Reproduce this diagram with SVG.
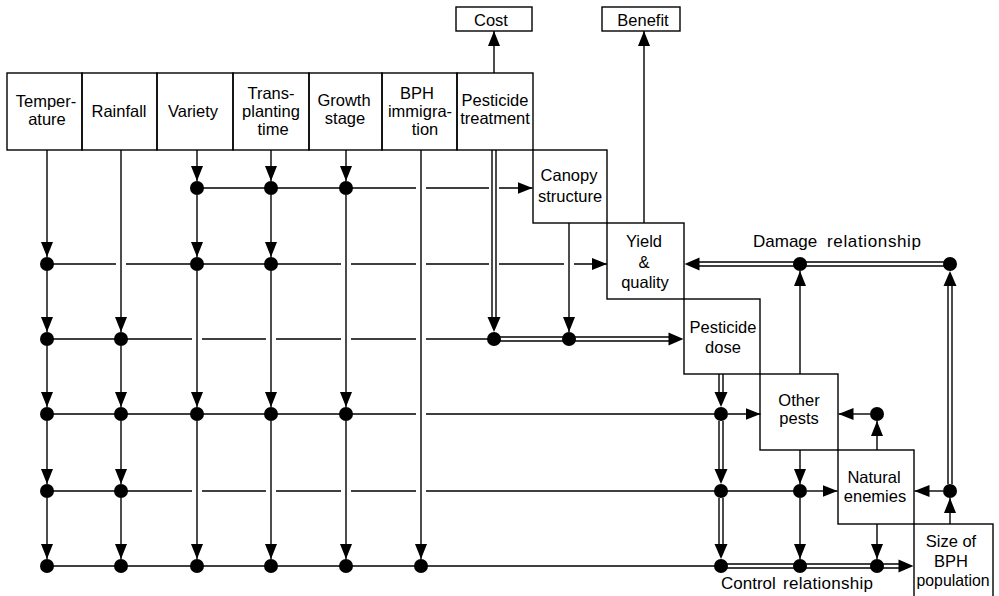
<svg xmlns="http://www.w3.org/2000/svg" width="999" height="596" viewBox="0 0 999 596">
<style>
.bx{fill:none;stroke:#000;stroke-width:1.4}
.ln{fill:none;stroke:#000;stroke-width:1.4}
.ar{fill:none;stroke:#000;stroke-width:1.4;marker-end:url(#ah)}
.hd{fill:#000;stroke:none}
.dt{fill:#000}
text{font-family:"Liberation Sans",Arial,sans-serif;font-size:16.5px;fill:#000;text-anchor:middle}
.lab{font-size:17px;text-anchor:start}
</style>
<defs>
<marker id="ah" markerUnits="userSpaceOnUse" markerWidth="15" markerHeight="12" refX="15" refY="6" orient="auto">
<path d="M0,0 L15,6 L0,12 z" fill="#000"/>
</marker>
</defs>
<rect width="999" height="596" fill="#fff"/>

<g id="connectors">
<!-- Temperature column -->
<path class="ar" d="M47,150 V257"/>
<path class="ar" d="M47,271 V332"/>
<path class="ar" d="M47,346 V407"/>
<path class="ar" d="M47,421 V484"/>
<path class="ar" d="M47,498 V559"/>
<!-- Rainfall column -->
<path class="ar" d="M121,150 V332"/>
<path class="ar" d="M121,346 V407"/>
<path class="ar" d="M121,421 V484"/>
<path class="ar" d="M121,498 V559"/>
<!-- Variety column -->
<path class="ar" d="M197,150 V181"/>
<path class="ar" d="M197,195 V257"/>
<path class="ar" d="M197,271 V407"/>
<path class="ar" d="M197,421 V559"/>
<!-- Transplanting column -->
<path class="ar" d="M271,150 V181"/>
<path class="ar" d="M271,195 V257"/>
<path class="ar" d="M271,271 V407"/>
<path class="ar" d="M271,421 V559"/>
<!-- Growth stage column -->
<path class="ar" d="M346,150 V181"/>
<path class="ar" d="M346,195 V407"/>
<path class="ar" d="M346,421 V559"/>
<!-- BPH immigration -->
<path class="ar" d="M421,150 V559"/>
<!-- Canopy down -->
<path class="ar" d="M569,223 V332"/>
<!-- Cost / Benefit -->
<path class="ar" d="M494,73 V31"/>
<path class="ar" d="M644,223 V31"/>
<!-- Other pests -->
<path class="ar" d="M800,450 V484"/>
<path class="ar" d="M800,498 V559"/>
<path class="ar" d="M800,374 V271"/>
<!-- Natural enemies -->
<path class="ar" d="M877,450 V421"/>
<path class="ar" d="M870,414 H838.5"/>
<path class="ar" d="M877,524 V559"/>
<!-- Size of BPH -->
<path class="ar" d="M950,524 V498"/>
<path class="ar" d="M943,491 H914.5"/>

<!-- Horizontal rows -->
<path class="ar" d="M197,188 H416 M426,188 H489 M499,188 H532.5"/>
<path class="ar" d="M47,264 H116 M126,264 H341 M351,264 H416 M426,264 H489 M499,264 H564 M574,264 H607"/>
<path class="ln" d="M47,339 H192 M202,339 H266 M276,339 H341 M351,339 H416 M426,339 H494"/>
<path class="ln" d="M47,414 H416 M426,414 H721"/>
<path class="ar" d="M728,414 H760.5"/>
<path class="ln" d="M47,491 H192 M202,491 H266 M276,491 H341 M351,491 H416 M426,491 H800"/>
<path class="ar" d="M807,491 H837.5"/>
<path class="ln" d="M47,566 H721"/>

<!-- Double lines -->
<path class="ln" d="M492,150 V318 M496,150 V318"/>
<path class="hd" d="M487.5,317 L500.5,317 L494,332 z"/>
<path class="ln" d="M500,337 H563 M500,341 H563"/>
<path class="ln" d="M575,337 H669 M575,341 H669"/>
<path class="hd" d="M668.5,332.5 L668.5,345.5 L683.5,339 z"/>

<path class="ln" d="M719,374 V393 M723,374 V393"/>
<path class="hd" d="M714.5,392 L727.5,392 L721,407 z"/>
<path class="ln" d="M719,421 V470 M723,421 V470"/>
<path class="hd" d="M714.5,469 L727.5,469 L721,484 z"/>
<path class="ln" d="M719,498 V545 M723,498 V545"/>
<path class="hd" d="M714.5,544 L727.5,544 L721,559 z"/>

<path class="ln" d="M727,564 H794 M727,568 H794"/>
<path class="ln" d="M806,564 H871 M806,568 H871"/>
<path class="ln" d="M883,564 H899 M883,568 H899"/>
<path class="hd" d="M898.5,559.5 L898.5,572.5 L913.5,566 z"/>

<path class="ln" d="M806,262 H944 M806,266 H944"/>
<path class="ln" d="M699,262 H794 M699,266 H794"/>
<path class="hd" d="M699.5,257.5 L699.5,270.5 L684.5,264 z"/>

<path class="ln" d="M948,484 V285 M952,484 V285"/>
<path class="hd" d="M943.5,286 L956.5,286 L950,271 z"/>

<!-- Dots -->
<g class="dt">
<circle cx="197" cy="188" r="7"/><circle cx="271" cy="188" r="7"/><circle cx="346" cy="188" r="7"/>
<circle cx="47" cy="264" r="7"/><circle cx="197" cy="264" r="7"/><circle cx="271" cy="264" r="7"/><circle cx="800" cy="264" r="7"/><circle cx="950" cy="264" r="7"/>
<circle cx="47" cy="339" r="7"/><circle cx="121" cy="339" r="7"/><circle cx="494" cy="339" r="7"/><circle cx="569" cy="339" r="7"/>
<circle cx="47" cy="414" r="7"/><circle cx="121" cy="414" r="7"/><circle cx="197" cy="414" r="7"/><circle cx="271" cy="414" r="7"/><circle cx="346" cy="414" r="7"/><circle cx="721" cy="414" r="7"/><circle cx="877" cy="414" r="7"/>
<circle cx="47" cy="491" r="7"/><circle cx="121" cy="491" r="7"/><circle cx="721" cy="491" r="7"/><circle cx="800" cy="491" r="7"/><circle cx="950" cy="491" r="7"/>
<circle cx="47" cy="566" r="7"/><circle cx="121" cy="566" r="7"/><circle cx="197" cy="566" r="7"/><circle cx="271" cy="566" r="7"/><circle cx="346" cy="566" r="7"/><circle cx="421" cy="566" r="7"/><circle cx="721" cy="566" r="7"/><circle cx="800" cy="566" r="7"/><circle cx="877" cy="566" r="7"/>
</g>
<text class="lab" y="247"><tspan x="753">Damage</tspan><tspan x="827" textLength="94" lengthAdjust="spacing">relationship</tspan></text>
<text class="lab" y="589"><tspan x="721">Control</tspan><tspan x="783" textLength="90" lengthAdjust="spacing">relationship</tspan></text>
</g>

<g id="temperature"><rect class="bx" x="7" y="73" width="75" height="77"/><text x="46" y="106.5">Temper-</text><text x="47" y="125">ature</text></g>
<g id="rainfall"><rect class="bx" x="82" y="73" width="75" height="77"/><text x="119" y="117">Rainfall</text></g>
<g id="variety"><rect class="bx" x="157" y="73" width="76" height="77"/><text x="193" y="117">Variety</text></g>
<g id="transplanting"><rect class="bx" x="233" y="73" width="76" height="77"/><text x="271" y="99">Trans-</text><text x="271" y="117">planting</text><text x="273" y="134.5">time</text></g>
<g id="growth"><rect class="bx" x="309" y="73" width="73" height="77"/><text x="344" y="106">Growth</text><text x="345" y="123.5">stage</text></g>
<g id="bph-immigration"><rect class="bx" x="382" y="73" width="75" height="77"/><text x="417" y="99">BPH</text><text x="420" y="117">immigra-</text><text x="425" y="134.5">tion</text></g>
<g id="pesticide-treatment"><rect class="bx" x="457" y="73" width="76" height="77"/><text x="495" y="106">Pesticide</text><text x="495" y="123.5">treatment</text></g>
<g id="cost"><rect class="bx" x="456" y="7" width="76" height="24"/><text x="491" y="25.5">Cost</text></g>
<g id="benefit"><rect class="bx" x="602" y="7" width="78" height="24"/><text x="643" y="25.5">Benefit</text></g>
<g id="canopy"><rect class="bx" x="533" y="150" width="74" height="73"/><text x="569" y="180.5">Canopy</text><text x="570" y="201.5">structure</text></g>
<g id="yield"><rect class="bx" x="607" y="223" width="77" height="76"/><text x="644" y="247">Yield</text><text x="644" y="268">&amp;</text><text x="645" y="288">quality</text></g>
<g id="pesticide-dose"><rect class="bx" x="684" y="299" width="76" height="75"/><text x="723" y="333">Pesticide</text><text x="723" y="353">dose</text></g>
<g id="other-pests"><rect class="bx" x="760" y="374" width="78" height="76"/><text x="799" y="406">Other</text><text x="799" y="424">pests</text></g>
<g id="natural-enemies"><rect class="bx" x="838" y="450" width="76" height="74"/><text x="874" y="483">Natural</text><text x="875" y="502">enemies</text></g>
<g id="size-bph"><rect class="bx" x="914" y="524" width="79" height="74"/><text x="951" y="547">Size of</text><text x="951" y="567">BPH</text><text x="953" y="586" textLength="73" lengthAdjust="spacingAndGlyphs">population</text></g>
</svg>
